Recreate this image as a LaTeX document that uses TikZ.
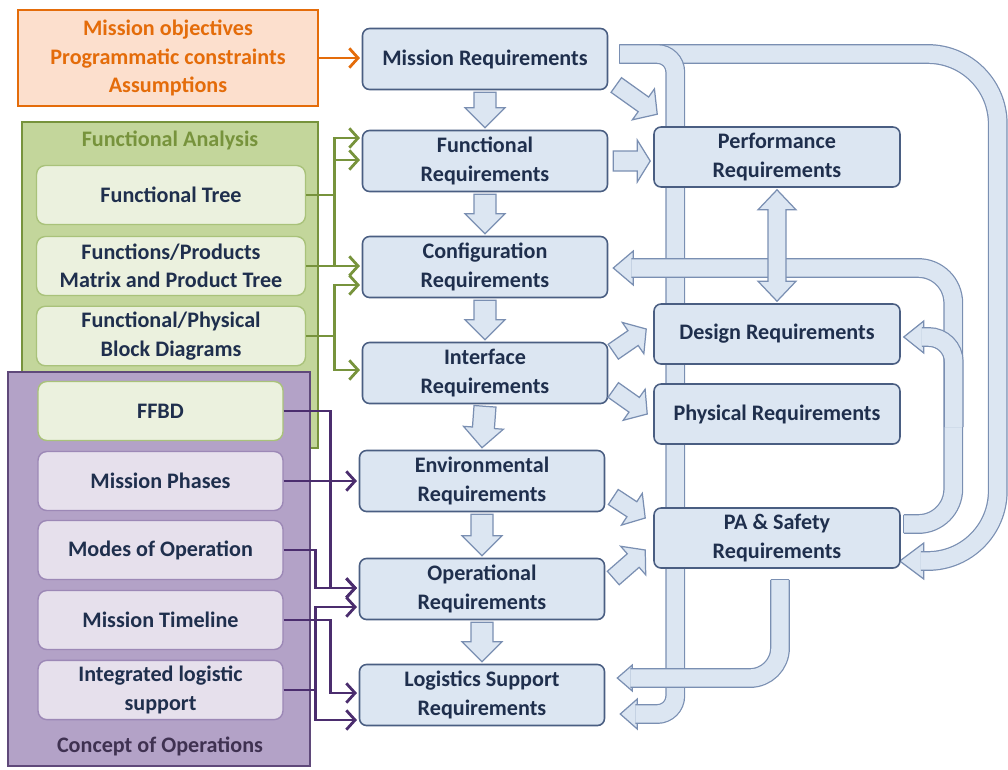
\documentclass[tikz,border=0pt]{standalone}
\usepackage{fontspec}
\setmainfont{Carlito}
\usetikzlibrary{arrows.meta,calc,backgrounds}

\definecolor{reqfill}{HTML}{DCE6F2}
\definecolor{reqline}{HTML}{4A5E82}
\definecolor{pipeline}{HTML}{7A8FB2}
\definecolor{txtblue}{HTML}{1F2F4D}
\definecolor{orgline}{HTML}{E46C0A}
\definecolor{orgfill}{HTML}{FCDFCD}
\definecolor{grnline}{HTML}{77933C}
\definecolor{grnfill}{HTML}{C3D69B}
\definecolor{grnsub}{HTML}{EBF1DE}
\definecolor{grnsubline}{HTML}{A9C27A}
\definecolor{purline}{HTML}{5F497A}
\definecolor{purfill}{HTML}{B3A2C7}
\definecolor{pursub}{HTML}{E6E0EC}
\definecolor{pursubline}{HTML}{9C88B6}
\definecolor{purarrow}{HTML}{4B2D6E}
\definecolor{purtext}{HTML}{3F3151}

\newcommand{\reqfont}{\fontsize{12.6}{16.2}\selectfont\bfseries}

% straight block arrow: tail, tip, shaft half width, head half width, head length
\newcommand{\blockarrow}[5]{%
  \path (#1) coordinate (bt) (#2) coordinate (bp);
  \path ($(bp)!#5!(bt)$) coordinate (bb);
  \filldraw[blockarr] ($(bt)!#3!90:(bp)$) -- ($(bb)!#3!90:(bp)$) -- ($(bb)!#4!90:(bp)$) -- (bp)
    -- ($(bb)!#4!-90:(bp)$) -- ($(bb)!#3!-90:(bp)$) -- ($(bt)!#3!-90:(bp)$) -- cycle;}
% left pointing head of a pipe: tip, half width, length
\newcommand{\pipehead}[3]{\filldraw[pipehd] (#1) -- ++(#3,-#2) -- ++(0,{2*#2}) -- cycle;}

\begin{document}
\begin{tikzpicture}[x=0.02cm,y=-0.02cm]
        \tikzstyle{req}=[rectangle,rounded corners=4pt,draw=reqline,fill=reqfill,line width=0.9pt,minimum width=4.9cm,minimum height=1.22cm,align=center,text=txtblue,font=\reqfont]
        \tikzstyle{res}=[req,minimum width=4.92cm,minimum height=1.2cm]
        \tikzstyle{group}=[rectangle,line width=1.6pt]
        \tikzstyle{fasub}=[rectangle,rounded corners=5pt,draw=grnsubline,fill=grnsub,line width=0.8pt,minimum width=5.38cm,minimum height=1.18cm,align=center,text=txtblue,font=\reqfont]
        \tikzstyle{opsub}=[fasub,draw=pursubline,fill=pursub,minimum width=4.9cm]
        \tikzstyle{grnarrow}=[draw=grnline,line width=1.6pt,-{Straight Barb[length=5pt,width=11pt]},shorten >=1pt]
        \tikzstyle{purarrow}=[grnarrow,draw=purarrow]
        \tikzstyle{orgarrow}=[grnarrow,draw=orgline]
        \tikzstyle{pipe}=[draw=pipeline,double=reqfill,double distance=9.9pt,line width=0.7pt]
        \tikzstyle{pipehd}=[draw=pipeline,fill=reqfill,line width=0.7pt]
        \tikzstyle{blockarr}=[pipehd]
        \tikzstyle{pipecap}=[draw=pipeline,line width=0.7pt]
        \useasboundingbox (0,0) rectangle (1008,769);

        % inputs
        \node [group,draw=orgline,fill=orgfill,minimum width=6cm,minimum height=1.92cm,text=orgline,font=\reqfont,align=center] (obj) at (168,58) {Mission objectives\\Programmatic constraints\\Assumptions};
        \node [group,draw=grnline,fill=grnfill,minimum width=5.92cm,minimum height=6.52cm] (fa) at (170,285) {};
        \node [text=grnline,font=\reqfont] (fatitle) at (170,140) {Functional Analysis};
        \node [fasub] (ft) at (171,195) {Functional Tree};
        \node [fasub] (fp) at (171,266) {Functions/Products\\Matrix and Product Tree};
        \node [fasub] (fb) at (171,336) {Functional/Physical\\Block Diagrams};
        \node [group,draw=purline,fill=purfill,minimum width=6.04cm,minimum height=7.88cm] (conops) at (159,569) {};
        \node [text=purtext,font=\reqfont] (colabel) at (160,746) {Concept of Operations};
        \node [fasub,minimum width=4.9cm] (ffbd) at (160.5,411) {FFBD};
        \node [opsub] (mp) at (160.5,481) {Mission Phases};
        \node [opsub] (mo) at (160.5,550) {Modes of Operation};
        \node [opsub] (mt) at (160.5,620) {Mission Timeline};
        \node [opsub] (il) at (160.5,690) {Integrated logistic\\support};

        % requirements
        \node [req] (mreq) at (485,59) {Mission Requirements};
        \node [req] (freq) at (485,161) {Functional\\Requirements};
        \node [req] (creq) at (485,267) {Configuration\\Requirements};
        \node [req] (ireq) at (485,373) {Interface\\Requirements};
        \node [req] (ereq) at (482,481) {Environmental\\Requirements};
        \node [req] (oreq) at (482,589) {Operational\\Requirements};
        \node [req] (lreq) at (482,695) {Logistics Support\\Requirements};
        \node [res] (perf) at (777,157) {Performance\\Requirements};
        \node [res] (des) at (777,334) {Design Requirements};
        \node [res] (phy) at (777,414) {Physical Requirements};
        \node [res] (pa) at (777,538) {PA \& Safety\\Requirements};

        % input connectors
        \draw [orgarrow] (obj.east) -- (obj.east -| mreq.west);
        \draw [grnarrow] (ft.east) -- ++(28,0) |- ($(freq.west)+(0,-1)$);
        \draw [grnarrow] (fp.east) -- ++(28,0) |- ($(freq.west)+(0,-23)$);
        \draw [grnarrow] (fp.east) -- (fp.east -| creq.west);
        \draw [grnarrow] (fb.east) -- ++(28,0) |- ($(creq.west)+(0,18)$);
        \draw [grnarrow] (fb.east) -- ++(28,0) |- ($(ireq.west)+(0,-3)$);
        \draw [purarrow] (ffbd.east) -- ++(47,0) |- ($(oreq.west)+(0,-1)$);
        \draw [purarrow] (mp.east) -- (mp.east -| ereq.west);
        \draw [purarrow] (mo.east) -- ++(32,0) |- ($(oreq.west)+(0,-1)$);
        \draw [purarrow] (il.east) -- ++(32,0) |- ($(oreq.west)+(0,18)$);
        \draw [purarrow] (il.east) -- ++(32,0) |- ($(lreq.west)+(0,25)$);
        \draw [purarrow] (mt.east) -- ++(47,0) |- ($(lreq.west)+(0,-2)$);

        % block arrows
        \foreach \a/\b in {mreq/freq,freq/creq,creq/ireq,ireq/ereq,ereq/oreq,oreq/lreq}
          \blockarrow{$(\a.south)+(0,2)$}{$(\b.north)+(0,-2)$}{0.22cm}{0.4cm}{0.4cm};
        \blockarrow{$(freq.east)+(5,0)$}{$(freq.east -| perf.west)+(-3,0)$}{0.2cm}{0.42cm}{0.26cm}
        \blockarrow{$(mreq.east)+(8,26)$}{$(perf.north west)+(4,-12)$}{0.18cm}{0.38cm}{0.34cm}
        \blockarrow{$(ireq.north east)+(5,10)$}{$(des.west)+(-7,-5)$}{0.18cm}{0.38cm}{0.32cm}
        \blockarrow{$(ireq.east)+(5,17)$}{$(phy.west)+(-6,0)$}{0.18cm}{0.38cm}{0.32cm}
        \blockarrow{$(ereq.east)+(8,16)$}{$(pa.west)+(-8,-20)$}{0.18cm}{0.38cm}{0.32cm}
        \blockarrow{$(oreq.east)+(8,-11)$}{$(pa.west)+(-8,12)$}{0.18cm}{0.38cm}{0.32cm}
        \coordinate (pt) at ($(perf.south)+(0,2)$);
        \coordinate (pb) at ($(des.north)+(0,-2)$);
        \filldraw [blockarr] (pt) -- ($(pt)+(19,20)$) -- ($(pt)+(9,20)$) -- ($(pb)+(9,-20)$) -- ($(pb)+(19,-20)$) -- (pb)
          -- ($(pb)+(-19,-20)$) -- ($(pb)+(-9,-20)$) -- ($(pt)+(-9,20)$) -- ($(pt)+(-19,20)$) -- cycle;

        % feedback pipes
        \begin{pgfonlayer}{background}
          \coordinate (pstart) at ($(mreq.east)+(11,-5)$);
          \coordinate (bend) at ($(pa.east)+(-1,23)$);
          \coordinate (lend) at ($(lreq.east)+(15,19)$);
          \coordinate (cstart) at ($(pa.east)+(3,-14)$);
          \coordinate (cend) at ($(creq.east)+(5,1)$);
          \coordinate (dend) at ($(des.east)+(3,3)$);
          \coordinate (lstart) at ($(pa.south)+(3,11)$);
          \coordinate (lgend) at ($(lreq.east)+(12,-17)$);
          \pipehead{bend}{18}{24}
          \draw [pipe,rounded corners=1.4cm] (pstart) -| ($(bend)+(98,0)$) -- ($(bend)+(21,0)$);
          \pipehead{lend}{15}{17}
          \draw [pipe,rounded corners=0.36cm] (pstart) -| ($(lend)+(55,0)$) -- ($(lend)+(15,0)$);
          \draw [pipecap] ($(pstart)+(0,-9.4)$) -- ($(pstart)+(0,9.4)$);
          \pipehead{cend}{17}{20}
          \draw [pipe,rounded corners=0.7cm] (cstart) -| ($(cend)+(340,0)$) -- ($(cend)+(18,0)$);
          \draw [pipecap] ($(cstart)+(0,-9.4)$) -- ($(cstart)+(0,9.4)$);
          \pipehead{dend}{16}{20}
          \draw [pipe,rounded corners=0.5cm] ($(dend)+(50,90)$) |- ($(dend)+(18,0)$);
          \pipehead{lgend}{13}{15}
          \draw [pipe,rounded corners=0.6cm] (lstart) |- ($(lgend)+(13,0)$);
          \draw [pipecap] ($(lstart)+(-9.4,0)$) -- ($(lstart)+(9.4,0)$);
        \end{pgfonlayer}
      \end{tikzpicture}
\end{document}
